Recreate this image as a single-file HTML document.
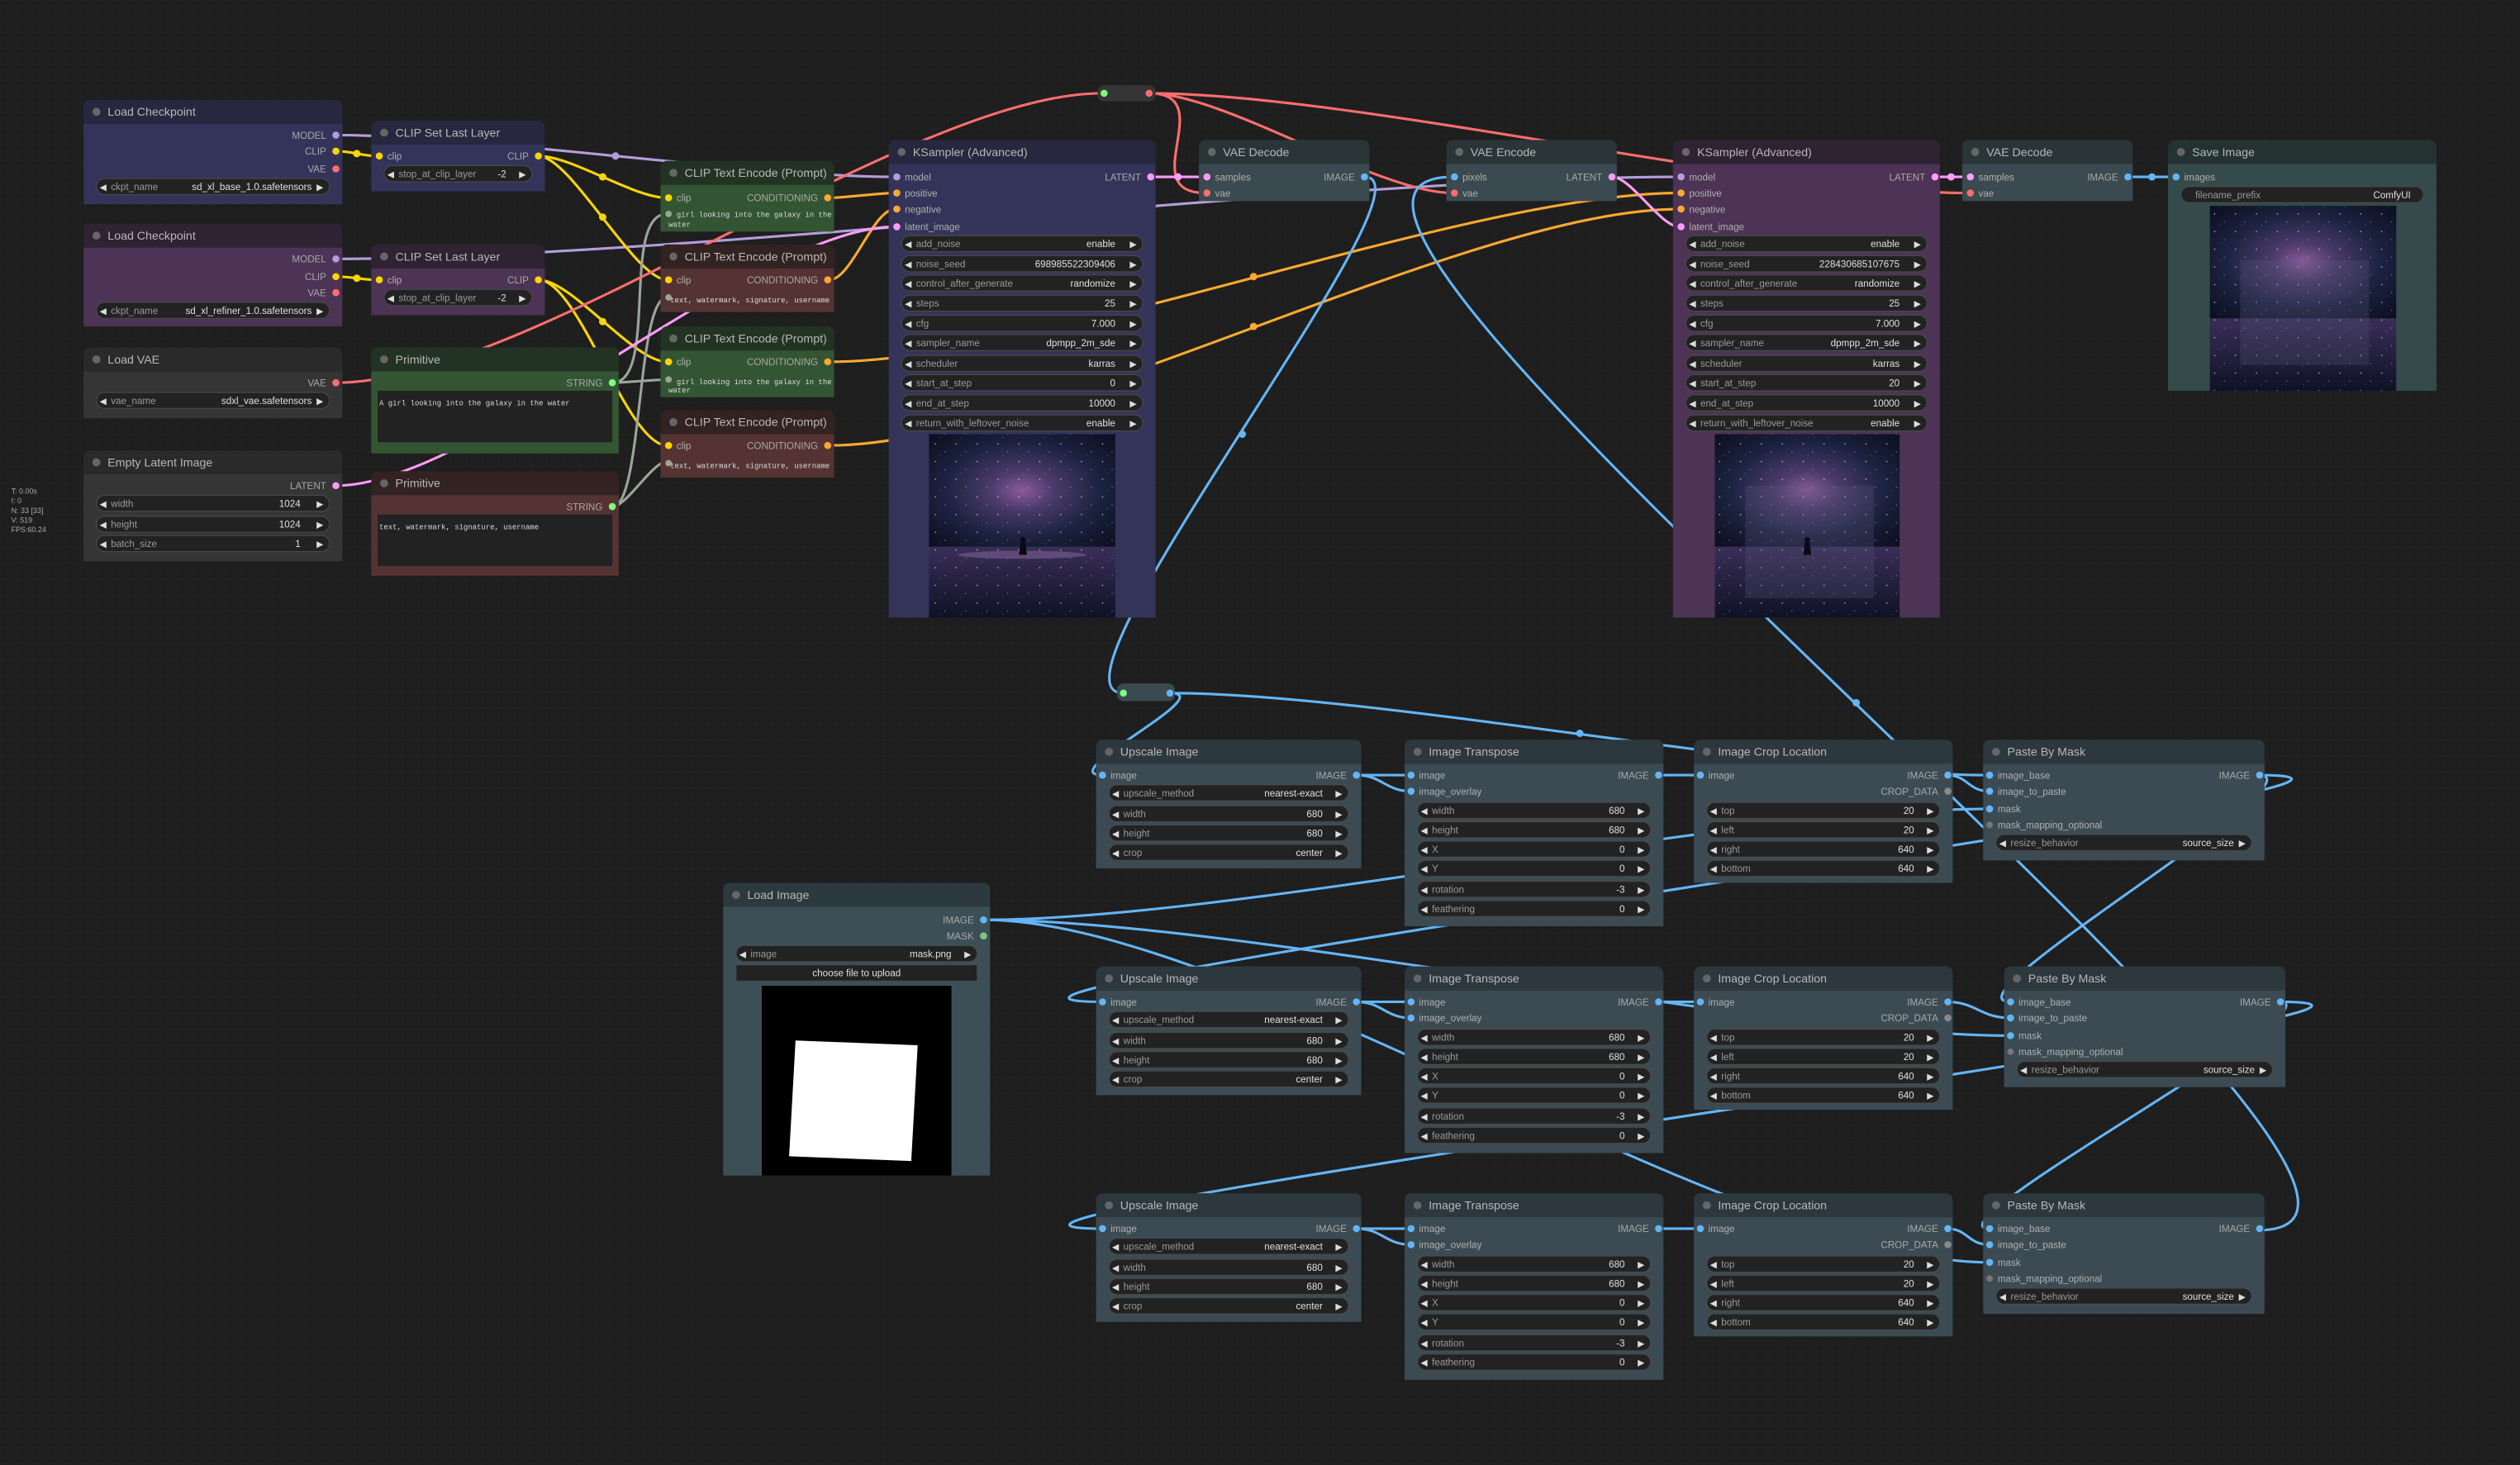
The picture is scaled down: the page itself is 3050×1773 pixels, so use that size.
<!DOCTYPE html>
<html><head><meta charset="utf-8"><style>
html,body{margin:0;padding:0;background:#1e1e1e;}
svg{display:block}
.tt{font-family:"Liberation Sans",sans-serif;font-size:7.3px;fill:#b8b8b8}
.sl{font-family:"Liberation Sans",sans-serif;font-size:6px;fill:#b0b0b0}
.so{font-family:"Liberation Sans",sans-serif;font-size:6px;fill:#a8a8a8;text-anchor:end}
.wl{font-family:"Liberation Sans",sans-serif;font-size:6px;fill:#9a9a9a}
.wv{font-family:"Liberation Sans",sans-serif;font-size:6px;fill:#e0e0e0;text-anchor:end}
.ar{font-family:"DejaVu Sans",sans-serif;font-size:5.5px;fill:#ddd}
.wb{fill:#222;stroke:#4a4a4a;stroke-width:0.6}
.mono{font-family:"Liberation Mono",monospace;font-size:4.6px;fill:#ddd}
.dbg{font-family:"Liberation Sans",sans-serif;font-size:4.6px;fill:#aaa}
.lk{fill:none;stroke-width:1.6}
.dot{fill:#666}
</style></head><body>
<svg width="3050" height="1773" viewBox="0 0 1568 911" preserveAspectRatio="none" xmlns="http://www.w3.org/2000/svg">
<defs>
<pattern id="grid" width="10" height="10" patternUnits="userSpaceOnUse"><path d="M10 0H0V10" fill="none" stroke="#272727" stroke-width="0.5"/></pattern>
<radialGradient id="gal" cx="0.5" cy="0.5" r="0.7"><stop offset="0" stop-color="#8a5a9a"/><stop offset="0.25" stop-color="#4a3a6a"/><stop offset="0.6" stop-color="#1c2240"/><stop offset="1" stop-color="#0a0e1e"/></radialGradient>
<linearGradient id="wat" x1="0" y1="0" x2="0" y2="1"><stop offset="0" stop-color="#3a2e58"/><stop offset="1" stop-color="#0e1226"/></linearGradient>
<pattern id="stars" width="13" height="11" patternUnits="userSpaceOnUse"><circle cx="3" cy="2" r="0.4" fill="#fff" opacity="0.7"/><circle cx="9" cy="7" r="0.3" fill="#fff" opacity="0.6"/><circle cx="6" cy="9" r="0.25" fill="#cce" opacity="0.5"/></pattern>
</defs>
<rect width="1568" height="911" fill="#1e1e1e"/>
<rect width="1568" height="911" fill="url(#grid)"/>
<g class="dbg"><text x="7" y="307">T: 0.00s</text><text x="7" y="313">I: 0</text><text x="7" y="319">N: 33 [33]</text><text x="7" y="325">V: 519</text><text x="7" y="331">FPS:60.24</text></g>

<g class="lk">
<path stroke="#b39ddb" d="M209,84 C296,84 470,110 557,110"/>
<path stroke="#b39ddb" d="M209,161 C419,161 835,110 1045,110"/>
<path stroke="#ffd500" d="M209,94 C220,94 224,97 235,97"/>
<path stroke="#ffd500" d="M335,97 C356,97 394,123 415,123"/>
<path stroke="#ffd500" d="M335,97 C355,97 395,174 415,174"/>
<path stroke="#ffd500" d="M209,172 C220,172 224,174 235,174"/>
<path stroke="#ffd500" d="M335,174 C356,174 394,225 415,225"/>
<path stroke="#ffd500" d="M335,174 C360,174 390,277 415,277"/>
<path stroke="#9aa59a" d="M381,238 C410,238 386,133 415,133"/>
<path stroke="#9aa59a" d="M381,238 C386,238 410,236 415,236"/>
<path stroke="#9aa59a" d="M381,315 C400,315 396,185 415,185"/>
<path stroke="#9aa59a" d="M381,315 C390,315 406,287 415,287"/>
<path stroke="#ffa931" d="M516,123 C526,123 547,120 557,120"/>
<path stroke="#ffa931" d="M516,174 C530,174 543,130 557,130"/>
<path stroke="#ffa931" d="M516,225 C648,225 913,120 1045,120"/>
<path stroke="#ffa931" d="M516,277 C648,277 913,130 1045,130"/>
<path stroke="#ff9cf9" d="M209,302 C296,302 470,141 557,141"/>
<path stroke="#ff9cf9" d="M716,110 L750,110"/>
<path stroke="#ff9cf9" d="M1003,110 C1015,110 1033,141 1045,141"/>
<path stroke="#ff9cf9" d="M1204,110 L1225,110"/>
<path stroke="#ff6e6e" d="M209,238 C330,238 565,58 686,58"/>
<path stroke="#ff6e6e" d="M715,58 C760,58 705,120 750,120"/>
<path stroke="#ff6e6e" d="M715,58 C762,58 857,120 904,120"/>
<path stroke="#ff6e6e" d="M715,58 C843,58 1097,120 1225,120"/>
<path stroke="#64b5f6" d="M849,110 C900,110 640,431 699,431"/>
<path stroke="#64b5f6" d="M1325,110 L1353,110"/>
<path stroke="#64b5f6" d="M1405,765 C1585,765 724,110 904,110"/>
<path stroke="#64b5f6" d="M728,431 C856,431 1110,482 1238,482"/>
<path stroke="#64b5f6" d="M728,431 C760,431 654,482 686,482"/>
<path stroke="#64b5f6" d="M844,482 L878,482"/><path stroke="#64b5f6" d="M844,482 C860,482 862,492 878,492"/>
<path stroke="#64b5f6" d="M1031,482 L1058,482"/>
<path stroke="#64b5f6" d="M1211,482 C1225,482 1224,492 1238,492"/>
<path stroke="#64b5f6" d="M844,623 L878,623"/><path stroke="#64b5f6" d="M844,623 C860,623 862,633 878,633"/>
<path stroke="#64b5f6" d="M1031,623 L1058,623"/>
<path stroke="#64b5f6" d="M1211,623 C1230,623 1232,633 1251,633"/>
<path stroke="#64b5f6" d="M844,764 L878,764"/><path stroke="#64b5f6" d="M844,764 C860,764 862,774 878,774"/>
<path stroke="#64b5f6" d="M1031,764 L1058,764"/>
<path stroke="#64b5f6" d="M1211,764 C1225,764 1224,774 1238,774"/>
<path stroke="#64b5f6" d="M612,572 C770,572 1080,503 1238,503"/>
<path stroke="#64b5f6" d="M612,572 C770,572 1095,644 1251,644"/>
<path stroke="#64b5f6" d="M612,572 C770,572 1080,785 1238,785"/>
<path stroke="#64b5f6" d="M1405,482 C1588,482 503,623 686,623"/>
<path stroke="#64b5f6" d="M1418,623 C1600,623 504,764 686,764"/>
<path stroke="#64b5f6" d="M1405,482 C1450,482 1206,623 1251,623"/>
<path stroke="#64b5f6" d="M1418,623 C1460,623 1196,764 1238,764"/>
</g>
<g>
<circle cx="383" cy="97" r="2.3" fill="#b39ddb"/><circle cx="222" cy="95.5" r="2.3" fill="#ffd500"/><circle cx="222" cy="173" r="2.3" fill="#ffd500"/>
<circle cx="375" cy="110" r="2.3" fill="#ffd500"/><circle cx="375" cy="135" r="2.3" fill="#ffd500"/><circle cx="375" cy="200" r="2.3" fill="#ffd500"/><circle cx="375" cy="225" r="2.3" fill="#ffd500"/>
<circle cx="780" cy="172" r="2.3" fill="#ffa931"/><circle cx="780" cy="203" r="2.3" fill="#ffa931"/>
<circle cx="733" cy="110" r="2.3" fill="#ff9cf9"/><circle cx="1214" cy="110" r="2.3" fill="#ff9cf9"/>
<circle cx="773" cy="270" r="2.3" fill="#64b5f6"/><circle cx="1155" cy="437" r="2.3" fill="#64b5f6"/><circle cx="983" cy="456" r="2.3" fill="#64b5f6"/><circle cx="1339" cy="110" r="2.3" fill="#64b5f6"/>
</g>

<rect x="683" y="53" width="36" height="10" rx="4" fill="#353535"/><circle cx="687" cy="58" r="2.2" fill="#7fff7f"/><circle cx="715" cy="58" r="2.2" fill="#ff6e6e"/>
<rect x="695" y="425" width="36" height="11" rx="4" fill="#3a4a50"/><circle cx="699" cy="431" r="2.2" fill="#7fff7f"/><circle cx="728" cy="431" r="2.2" fill="#64b5f6"/>

<g transform="translate(52,62)">
<rect width="161" height="65" rx="4" fill="#27273f"/><rect y="15" width="161" height="50" fill="#34345a"/>
<circle cx="8" cy="7.5" r="2.5" class="dot"/><text x="15" y="10" class="tt">Load Checkpoint</text>
<text x="151" y="24.2" class="so">MODEL</text><circle cx="157" cy="22" r="2.2" fill="#b39ddb"/>
<text x="151" y="34.2" class="so">CLIP</text><circle cx="157" cy="32" r="2.2" fill="#ffd500"/>
<text x="151" y="45.2" class="so">VAE</text><circle cx="157" cy="43" r="2.2" fill="#ff6e6e"/>
<rect x="8" y="49" width="145" height="10" rx="5" class="wb"/><text x="10" y="56.2" class="ar">◀</text><text x="17" y="56.2" class="wl">ckpt_name</text><text x="142" y="56.2" class="wv">sd_xl_base_1.0.safetensors</text><text x="145" y="56.2" class="ar">▶</text>
</g>
<g transform="translate(52,139)">
<rect width="161" height="64" rx="4" fill="#2e2233"/><rect y="15" width="161" height="49" fill="#4d3355"/>
<circle cx="8" cy="7.5" r="2.5" class="dot"/><text x="15" y="10" class="tt">Load Checkpoint</text>
<text x="151" y="24.2" class="so">MODEL</text><circle cx="157" cy="22" r="2.2" fill="#b39ddb"/>
<text x="151" y="35.2" class="so">CLIP</text><circle cx="157" cy="33" r="2.2" fill="#ffd500"/>
<text x="151" y="45.2" class="so">VAE</text><circle cx="157" cy="43" r="2.2" fill="#ff6e6e"/>
<rect x="8" y="49" width="145" height="10" rx="5" class="wb"/><text x="10" y="56.2" class="ar">◀</text><text x="17" y="56.2" class="wl">ckpt_name</text><text x="142" y="56.2" class="wv">sd_xl_refiner_1.0.safetensors</text><text x="145" y="56.2" class="ar">▶</text>
</g>
<g transform="translate(52,216)">
<rect width="161" height="44" rx="4" fill="#2a2a2a"/><rect y="15" width="161" height="29" fill="#353535"/>
<circle cx="8" cy="7.5" r="2.5" class="dot"/><text x="15" y="10" class="tt">Load VAE</text>
<text x="151" y="24.2" class="so">VAE</text><circle cx="157" cy="22" r="2.2" fill="#ff6e6e"/>
<rect x="8" y="28" width="145" height="10" rx="5" class="wb"/><text x="10" y="35.2" class="ar">◀</text><text x="17" y="35.2" class="wl">vae_name</text><text x="142" y="35.2" class="wv">sdxl_vae.safetensors</text><text x="145" y="35.2" class="ar">▶</text>
</g>
<g transform="translate(52,280)">
<rect width="161" height="69" rx="4" fill="#2a2a2a"/><rect y="15" width="161" height="54" fill="#353535"/>
<circle cx="8" cy="7.5" r="2.5" class="dot"/><text x="15" y="10" class="tt">Empty Latent Image</text>
<text x="151" y="24.2" class="so">LATENT</text><circle cx="157" cy="22" r="2.2" fill="#ff9cf9"/>
<rect x="8" y="28" width="145" height="10" rx="5" class="wb"/><text x="10" y="35.2" class="ar">◀</text><text x="17" y="35.2" class="wl">width</text><text x="135" y="35.2" class="wv">1024</text><text x="145" y="35.2" class="ar">▶</text>
<rect x="8" y="41" width="145" height="10" rx="5" class="wb"/><text x="10" y="48.2" class="ar">◀</text><text x="17" y="48.2" class="wl">height</text><text x="135" y="48.2" class="wv">1024</text><text x="145" y="48.2" class="ar">▶</text>
<rect x="8" y="53" width="145" height="10" rx="5" class="wb"/><text x="10" y="60.2" class="ar">◀</text><text x="17" y="60.2" class="wl">batch_size</text><text x="135" y="60.2" class="wv">1</text><text x="145" y="60.2" class="ar">▶</text>
</g>
<g transform="translate(231,75)">
<rect width="108" height="44" rx="4" fill="#27273f"/><rect y="15" width="108" height="29" fill="#34345a"/>
<circle cx="8" cy="7.5" r="2.5" class="dot"/><text x="15" y="10" class="tt">CLIP Set Last Layer</text>
<circle cx="5" cy="22" r="2.2" fill="#ffd500"/><text x="10" y="24.2" class="sl">clip</text>
<text x="98" y="24.2" class="so">CLIP</text><circle cx="104" cy="22" r="2.2" fill="#ffd500"/>
<rect x="8" y="28" width="92" height="10" rx="5" class="wb"/><text x="10" y="35.2" class="ar">◀</text><text x="17" y="35.2" class="wl">stop_at_clip_layer</text><text x="84" y="35.2" class="wv">-2</text><text x="92" y="35.2" class="ar">▶</text>
</g>
<g transform="translate(231,152)">
<rect width="108" height="44" rx="4" fill="#2e2233"/><rect y="15" width="108" height="29" fill="#4d3355"/>
<circle cx="8" cy="7.5" r="2.5" class="dot"/><text x="15" y="10" class="tt">CLIP Set Last Layer</text>
<circle cx="5" cy="22" r="2.2" fill="#ffd500"/><text x="10" y="24.2" class="sl">clip</text>
<text x="98" y="24.2" class="so">CLIP</text><circle cx="104" cy="22" r="2.2" fill="#ffd500"/>
<rect x="8" y="28" width="92" height="10" rx="5" class="wb"/><text x="10" y="35.2" class="ar">◀</text><text x="17" y="35.2" class="wl">stop_at_clip_layer</text><text x="84" y="35.2" class="wv">-2</text><text x="92" y="35.2" class="ar">▶</text>
</g>
<g transform="translate(231,216)">
<rect width="154" height="66" rx="4" fill="#233323"/><rect y="15" width="154" height="51" fill="#335533"/>
<circle cx="8" cy="7.5" r="2.5" class="dot"/><text x="15" y="10" class="tt">Primitive</text>
<text x="144" y="24.2" class="so">STRING</text><circle cx="150" cy="22" r="2.2" fill="#7fff7f"/>
<rect x="4" y="27" width="146" height="32" fill="#222"/><text x="5" y="36" class="mono">A girl looking into the galaxy in the water</text>
</g>
<g transform="translate(231,293)">
<rect width="154" height="65" rx="4" fill="#332222"/><rect y="15" width="154" height="50" fill="#553333"/>
<circle cx="8" cy="7.5" r="2.5" class="dot"/><text x="15" y="10" class="tt">Primitive</text>
<text x="144" y="24.2" class="so">STRING</text><circle cx="150" cy="22" r="2.2" fill="#7fff7f"/>
<rect x="4" y="27" width="146" height="32" fill="#222"/><text x="5" y="36" class="mono">text, watermark, signature, username</text>
</g>
<g transform="translate(411,100)">
<rect width="108" height="44" rx="4" fill="#233323"/><rect y="15" width="108" height="29" fill="#335533"/>
<circle cx="8" cy="7.5" r="2.5" class="dot"/><text x="15" y="10" class="tt">CLIP Text Encode (Prompt)</text>
<circle cx="5" cy="23" r="2.2" fill="#ffd500"/><text x="10" y="25.2" class="sl">clip</text>
<text x="98" y="25.2" class="so">CONDITIONING</text><circle cx="104" cy="23" r="2.2" fill="#ffa931"/>
<circle cx="5" cy="33" r="2" fill="#9aa59a"/><text x="10" y="35" class="mono">girl looking into the galaxy in the</text><text x="5" y="41" class="mono">water</text>
</g>
<g transform="translate(411,152)">
<rect width="108" height="42" rx="4" fill="#332222"/><rect y="15" width="108" height="27" fill="#553333"/>
<circle cx="8" cy="7.5" r="2.5" class="dot"/><text x="15" y="10" class="tt">CLIP Text Encode (Prompt)</text>
<circle cx="5" cy="22" r="2.2" fill="#ffd500"/><text x="10" y="24.2" class="sl">clip</text>
<text x="98" y="24.2" class="so">CONDITIONING</text><circle cx="104" cy="22" r="2.2" fill="#ffa931"/>
<circle cx="5" cy="33" r="2" fill="#9aa59a"/><text x="6" y="36" class="mono">text, watermark, signature, username</text>
</g>
<g transform="translate(411,203)">
<rect width="108" height="44" rx="4" fill="#233323"/><rect y="15" width="108" height="29" fill="#335533"/>
<circle cx="8" cy="7.5" r="2.5" class="dot"/><text x="15" y="10" class="tt">CLIP Text Encode (Prompt)</text>
<circle cx="5" cy="22" r="2.2" fill="#ffd500"/><text x="10" y="24.2" class="sl">clip</text>
<text x="98" y="24.2" class="so">CONDITIONING</text><circle cx="104" cy="22" r="2.2" fill="#ffa931"/>
<circle cx="5" cy="33" r="2" fill="#9aa59a"/><text x="10" y="36" class="mono">girl looking into the galaxy in the</text><text x="5" y="41" class="mono">water</text>
</g>
<g transform="translate(411,255)">
<rect width="108" height="42" rx="4" fill="#332222"/><rect y="15" width="108" height="27" fill="#553333"/>
<circle cx="8" cy="7.5" r="2.5" class="dot"/><text x="15" y="10" class="tt">CLIP Text Encode (Prompt)</text>
<circle cx="5" cy="22" r="2.2" fill="#ffd500"/><text x="10" y="24.2" class="sl">clip</text>
<text x="98" y="24.2" class="so">CONDITIONING</text><circle cx="104" cy="22" r="2.2" fill="#ffa931"/>
<circle cx="5" cy="33" r="2" fill="#9aa59a"/><text x="6" y="36" class="mono">text, watermark, signature, username</text>
</g>

<g transform="translate(553,87)">
<rect width="166" height="297" rx="4" fill="#27273f"/><rect y="15" width="166" height="282" fill="#34345a"/>
<circle cx="8" cy="7.5" r="2.5" class="dot"/><text x="15" y="10" class="tt">KSampler (Advanced)</text>
<circle cx="5" cy="23" r="2.2" fill="#b39ddb"/><text x="10" y="25.2" class="sl">model</text>
<circle cx="5" cy="33" r="2.2" fill="#ffa931"/><text x="10" y="35.2" class="sl">positive</text>
<circle cx="5" cy="43" r="2.2" fill="#ffa931"/><text x="10" y="45.2" class="sl">negative</text>
<circle cx="5" cy="54" r="2.2" fill="#ff9cf9"/><text x="10" y="56.2" class="sl">latent_image</text>
<text x="157" y="25.2" class="so">LATENT</text><circle cx="163" cy="23" r="2.2" fill="#ff9cf9"/>
<g>
<rect x="8" y="59.5" width="150" height="10" rx="5" class="wb"/><text x="10" y="66.7" class="ar">◀</text><text x="17" y="66.7" class="wl">add_noise</text><text x="141" y="66.7" class="wv">enable</text><text x="150" y="66.7" class="ar">▶</text>
<rect x="8" y="72" width="150" height="10" rx="5" class="wb"/><text x="10" y="79.2" class="ar">◀</text><text x="17" y="79.2" class="wl">noise_seed</text><text x="141" y="79.2" class="wv">698985522309406</text><text x="150" y="79.2" class="ar">▶</text>
<rect x="8" y="84" width="150" height="10" rx="5" class="wb"/><text x="10" y="91.2" class="ar">◀</text><text x="17" y="91.2" class="wl">control_after_generate</text><text x="141" y="91.2" class="wv">randomize</text><text x="150" y="91.2" class="ar">▶</text>
<rect x="8" y="96.5" width="150" height="10" rx="5" class="wb"/><text x="10" y="103.7" class="ar">◀</text><text x="17" y="103.7" class="wl">steps</text><text x="141" y="103.7" class="wv">25</text><text x="150" y="103.7" class="ar">▶</text>
<rect x="8" y="109" width="150" height="10" rx="5" class="wb"/><text x="10" y="116.2" class="ar">◀</text><text x="17" y="116.2" class="wl">cfg</text><text x="141" y="116.2" class="wv">7.000</text><text x="150" y="116.2" class="ar">▶</text>
<rect x="8" y="121" width="150" height="10" rx="5" class="wb"/><text x="10" y="128.2" class="ar">◀</text><text x="17" y="128.2" class="wl">sampler_name</text><text x="141" y="128.2" class="wv">dpmpp_2m_sde</text><text x="150" y="128.2" class="ar">▶</text>
<rect x="8" y="134" width="150" height="10" rx="5" class="wb"/><text x="10" y="141.2" class="ar">◀</text><text x="17" y="141.2" class="wl">scheduler</text><text x="141" y="141.2" class="wv">karras</text><text x="150" y="141.2" class="ar">▶</text>
<rect x="8" y="146" width="150" height="10" rx="5" class="wb"/><text x="10" y="153.2" class="ar">◀</text><text x="17" y="153.2" class="wl">start_at_step</text><text x="141" y="153.2" class="wv">0</text><text x="150" y="153.2" class="ar">▶</text>
<rect x="8" y="158.5" width="150" height="10" rx="5" class="wb"/><text x="10" y="165.7" class="ar">◀</text><text x="17" y="165.7" class="wl">end_at_step</text><text x="141" y="165.7" class="wv">10000</text><text x="150" y="165.7" class="ar">▶</text>
<rect x="8" y="171" width="150" height="10" rx="5" class="wb"/><text x="10" y="178.2" class="ar">◀</text><text x="17" y="178.2" class="wl">return_with_leftover_noise</text><text x="141" y="178.2" class="wv">enable</text><text x="150" y="178.2" class="ar">▶</text>
</g>
<rect x="25" y="183" width="116" height="70" fill="url(#gal)"/><rect x="25" y="253" width="116" height="44" fill="url(#wat)"/>
<rect x="25" y="183" width="116" height="114" fill="url(#stars)"/>
<ellipse cx="83" cy="258" rx="40" ry="2.5" fill="#8a6aa0" opacity="0.5"/>
<path d="M82,250 h3 l1,8 h-5z" fill="#0a0a12"/><circle cx="83.5" cy="248.5" r="1.6" fill="#0a0a12"/>
</g>
<g transform="translate(746,87)">
<rect width="106" height="38" rx="4" fill="#2a3538"/><rect y="15" width="106" height="23" fill="#3a4a50"/>
<circle cx="8" cy="7.5" r="2.5" class="dot"/><text x="15" y="10" class="tt">VAE Decode</text>
<circle cx="5" cy="23" r="2.2" fill="#ff9cf9"/><text x="10" y="25.2" class="sl">samples</text>
<circle cx="5" cy="33" r="2.2" fill="#ff6e6e"/><text x="10" y="35.2" class="sl">vae</text>
<text x="97" y="25.2" class="so">IMAGE</text><circle cx="103" cy="23" r="2.2" fill="#64b5f6"/>
</g>
<g transform="translate(900,87)">
<rect width="106" height="38" rx="4" fill="#2a3538"/><rect y="15" width="106" height="23" fill="#3a4a50"/>
<circle cx="8" cy="7.5" r="2.5" class="dot"/><text x="15" y="10" class="tt">VAE Encode</text>
<circle cx="5" cy="23" r="2.2" fill="#64b5f6"/><text x="10" y="25.2" class="sl">pixels</text>
<circle cx="5" cy="33" r="2.2" fill="#ff6e6e"/><text x="10" y="35.2" class="sl">vae</text>
<text x="97" y="25.2" class="so">LATENT</text><circle cx="103" cy="23" r="2.2" fill="#ff9cf9"/>
</g>
<g transform="translate(1041,87)">
<rect width="166" height="297" rx="4" fill="#2e2233"/><rect y="15" width="166" height="282" fill="#4d3355"/>
<circle cx="8" cy="7.5" r="2.5" class="dot"/><text x="15" y="10" class="tt">KSampler (Advanced)</text>
<circle cx="5" cy="23" r="2.2" fill="#b39ddb"/><text x="10" y="25.2" class="sl">model</text>
<circle cx="5" cy="33" r="2.2" fill="#ffa931"/><text x="10" y="35.2" class="sl">positive</text>
<circle cx="5" cy="43" r="2.2" fill="#ffa931"/><text x="10" y="45.2" class="sl">negative</text>
<circle cx="5" cy="54" r="2.2" fill="#ff9cf9"/><text x="10" y="56.2" class="sl">latent_image</text>
<text x="157" y="25.2" class="so">LATENT</text><circle cx="163" cy="23" r="2.2" fill="#ff9cf9"/>
<g>
<rect x="8" y="59.5" width="150" height="10" rx="5" class="wb"/><text x="10" y="66.7" class="ar">◀</text><text x="17" y="66.7" class="wl">add_noise</text><text x="141" y="66.7" class="wv">enable</text><text x="150" y="66.7" class="ar">▶</text>
<rect x="8" y="72" width="150" height="10" rx="5" class="wb"/><text x="10" y="79.2" class="ar">◀</text><text x="17" y="79.2" class="wl">noise_seed</text><text x="141" y="79.2" class="wv">228430685107675</text><text x="150" y="79.2" class="ar">▶</text>
<rect x="8" y="84" width="150" height="10" rx="5" class="wb"/><text x="10" y="91.2" class="ar">◀</text><text x="17" y="91.2" class="wl">control_after_generate</text><text x="141" y="91.2" class="wv">randomize</text><text x="150" y="91.2" class="ar">▶</text>
<rect x="8" y="96.5" width="150" height="10" rx="5" class="wb"/><text x="10" y="103.7" class="ar">◀</text><text x="17" y="103.7" class="wl">steps</text><text x="141" y="103.7" class="wv">25</text><text x="150" y="103.7" class="ar">▶</text>
<rect x="8" y="109" width="150" height="10" rx="5" class="wb"/><text x="10" y="116.2" class="ar">◀</text><text x="17" y="116.2" class="wl">cfg</text><text x="141" y="116.2" class="wv">7.000</text><text x="150" y="116.2" class="ar">▶</text>
<rect x="8" y="121" width="150" height="10" rx="5" class="wb"/><text x="10" y="128.2" class="ar">◀</text><text x="17" y="128.2" class="wl">sampler_name</text><text x="141" y="128.2" class="wv">dpmpp_2m_sde</text><text x="150" y="128.2" class="ar">▶</text>
<rect x="8" y="134" width="150" height="10" rx="5" class="wb"/><text x="10" y="141.2" class="ar">◀</text><text x="17" y="141.2" class="wl">scheduler</text><text x="141" y="141.2" class="wv">karras</text><text x="150" y="141.2" class="ar">▶</text>
<rect x="8" y="146" width="150" height="10" rx="5" class="wb"/><text x="10" y="153.2" class="ar">◀</text><text x="17" y="153.2" class="wl">start_at_step</text><text x="141" y="153.2" class="wv">20</text><text x="150" y="153.2" class="ar">▶</text>
<rect x="8" y="158.5" width="150" height="10" rx="5" class="wb"/><text x="10" y="165.7" class="ar">◀</text><text x="17" y="165.7" class="wl">end_at_step</text><text x="141" y="165.7" class="wv">10000</text><text x="150" y="165.7" class="ar">▶</text>
<rect x="8" y="171" width="150" height="10" rx="5" class="wb"/><text x="10" y="178.2" class="ar">◀</text><text x="17" y="178.2" class="wl">return_with_leftover_noise</text><text x="141" y="178.2" class="wv">enable</text><text x="150" y="178.2" class="ar">▶</text>
</g>
<rect x="26" y="183" width="115" height="70" fill="url(#gal)"/><rect x="26" y="253" width="115" height="44" fill="url(#wat)"/>
<rect x="26" y="183" width="115" height="114" fill="url(#stars)"/>
<rect x="45" y="215" width="80" height="70" fill="#5a5a7a" opacity="0.25"/>
<path d="M82,250 h3 l1,8 h-5z" fill="#0a0a12"/><circle cx="83.5" cy="248.5" r="1.6" fill="#0a0a12"/>
</g>
<g transform="translate(1221,87)">
<rect width="106" height="38" rx="4" fill="#2a3538"/><rect y="15" width="106" height="23" fill="#3a4a50"/>
<circle cx="8" cy="7.5" r="2.5" class="dot"/><text x="15" y="10" class="tt">VAE Decode</text>
<circle cx="5" cy="23" r="2.2" fill="#ff9cf9"/><text x="10" y="25.2" class="sl">samples</text>
<circle cx="5" cy="33" r="2.2" fill="#ff6e6e"/><text x="10" y="35.2" class="sl">vae</text>
<text x="97" y="25.2" class="so">IMAGE</text><circle cx="103" cy="23" r="2.2" fill="#64b5f6"/>
</g>
<g transform="translate(1349,87)">
<rect width="167" height="156" rx="4" fill="#243232"/><rect y="15" width="167" height="141" fill="#354a4a"/>
<circle cx="8" cy="7.5" r="2.5" class="dot"/><text x="15" y="10" class="tt">Save Image</text>
<circle cx="5" cy="23" r="2.2" fill="#64b5f6"/><text x="10" y="25.2" class="sl">images</text>
<rect x="8" y="29" width="151" height="10" rx="5" class="wb"/><text x="17" y="36.2" class="wl">filename_prefix</text><text x="151" y="36.2" class="wv">ComfyUI</text>
<rect x="26" y="41" width="116" height="70" fill="url(#gal)"/><rect x="26" y="111" width="116" height="45" fill="url(#wat)"/>
<rect x="26" y="41" width="116" height="115" fill="url(#stars)"/>
<rect x="45" y="75" width="80" height="65" fill="#5a5a7a" opacity="0.25"/>
</g>

<g transform="translate(450,549)">
<rect width="166" height="182" rx="4" fill="#2c3a40"/><rect y="15" width="166" height="167" fill="#3d4f56"/>
<circle cx="8" cy="7.5" r="2.5" class="dot"/><text x="15" y="10" class="tt">Load Image</text>
<text x="156" y="25.2" class="so">IMAGE</text><circle cx="162" cy="23" r="2.2" fill="#64b5f6"/>
<text x="156" y="35.2" class="so">MASK</text><circle cx="162" cy="33" r="2.2" fill="#81c784"/>
<rect x="8" y="39" width="150" height="10" rx="5" class="wb"/><text x="10" y="46.2" class="ar">◀</text><text x="17" y="46.2" class="wl">image</text><text x="142" y="46.2" class="wv">mask.png</text><text x="150" y="46.2" class="ar">▶</text>
<rect x="8" y="51" width="150" height="10" fill="#222" stroke="#4a4a4a" stroke-width="0.5"/><text x="83" y="58.2" class="wv" style="text-anchor:middle">choose file to upload</text>
<rect x="24" y="64" width="118" height="118" fill="#000"/>
</g>
<polygon points="495,647 571,650 567,722 491,719" fill="#fff"/>

<g transform="translate(682,460)">
<rect width="165" height="80" rx="4" fill="#2c383e"/><rect y="15" width="165" height="65" fill="#3c4b53"/>
<circle cx="8" cy="7.5" r="2.5" class="dot"/><text x="15" y="10" class="tt">Upscale Image</text>
<circle cx="4" cy="22" r="2.2" fill="#64b5f6"/><text x="9" y="24.2" class="sl">image</text>
<text x="156" y="24.2" class="so">IMAGE</text><circle cx="162" cy="22" r="2.2" fill="#64b5f6"/>
<rect x="8" y="28" width="149" height="10" rx="5" class="wb"/><text x="10" y="35.2" class="ar">◀</text><text x="17" y="35.2" class="wl">upscale_method</text><text x="141" y="35.2" class="wv">nearest-exact</text><text x="149" y="35.2" class="ar">▶</text>
<rect x="8" y="41" width="149" height="10" rx="5" class="wb"/><text x="10" y="48.2" class="ar">◀</text><text x="17" y="48.2" class="wl">width</text><text x="141" y="48.2" class="wv">680</text><text x="149" y="48.2" class="ar">▶</text>
<rect x="8" y="53" width="149" height="10" rx="5" class="wb"/><text x="10" y="60.2" class="ar">◀</text><text x="17" y="60.2" class="wl">height</text><text x="141" y="60.2" class="wv">680</text><text x="149" y="60.2" class="ar">▶</text>
<rect x="8" y="65" width="149" height="10" rx="5" class="wb"/><text x="10" y="72.2" class="ar">◀</text><text x="17" y="72.2" class="wl">crop</text><text x="141" y="72.2" class="wv">center</text><text x="149" y="72.2" class="ar">▶</text>
</g>
<g transform="translate(874,460)">
<rect width="161" height="116" rx="4" fill="#2c383e"/><rect y="15" width="161" height="101" fill="#3c4b53"/>
<circle cx="8" cy="7.5" r="2.5" class="dot"/><text x="15" y="10" class="tt">Image Transpose</text>
<circle cx="4" cy="22" r="2.2" fill="#64b5f6"/><text x="9" y="24.2" class="sl">image</text>
<circle cx="4" cy="32" r="2.2" fill="#64b5f6"/><text x="9" y="34.2" class="sl">image_overlay</text>
<text x="152" y="24.2" class="so">IMAGE</text><circle cx="158" cy="22" r="2.2" fill="#64b5f6"/>
<rect x="8" y="39" width="145" height="10" rx="5" class="wb"/><text x="10" y="46.2" class="ar">◀</text><text x="17" y="46.2" class="wl">width</text><text x="137" y="46.2" class="wv">680</text><text x="145" y="46.2" class="ar">▶</text>
<rect x="8" y="51" width="145" height="10" rx="5" class="wb"/><text x="10" y="58.2" class="ar">◀</text><text x="17" y="58.2" class="wl">height</text><text x="137" y="58.2" class="wv">680</text><text x="145" y="58.2" class="ar">▶</text>
<rect x="8" y="63" width="145" height="10" rx="5" class="wb"/><text x="10" y="70.2" class="ar">◀</text><text x="17" y="70.2" class="wl">X</text><text x="137" y="70.2" class="wv">0</text><text x="145" y="70.2" class="ar">▶</text>
<rect x="8" y="75" width="145" height="10" rx="5" class="wb"/><text x="10" y="82.2" class="ar">◀</text><text x="17" y="82.2" class="wl">Y</text><text x="137" y="82.2" class="wv">0</text><text x="145" y="82.2" class="ar">▶</text>
<rect x="8" y="88" width="145" height="10" rx="5" class="wb"/><text x="10" y="95.2" class="ar">◀</text><text x="17" y="95.2" class="wl">rotation</text><text x="137" y="95.2" class="wv">-3</text><text x="145" y="95.2" class="ar">▶</text>
<rect x="8" y="100" width="145" height="10" rx="5" class="wb"/><text x="10" y="107.2" class="ar">◀</text><text x="17" y="107.2" class="wl">feathering</text><text x="137" y="107.2" class="wv">0</text><text x="145" y="107.2" class="ar">▶</text>
</g>
<g transform="translate(1054,460)">
<rect width="161" height="89" rx="4" fill="#2c383e"/><rect y="15" width="161" height="74" fill="#3c4b53"/>
<circle cx="8" cy="7.5" r="2.5" class="dot"/><text x="15" y="10" class="tt">Image Crop Location</text>
<circle cx="4" cy="22" r="2.2" fill="#64b5f6"/><text x="9" y="24.2" class="sl">image</text>
<text x="152" y="24.2" class="so">IMAGE</text><circle cx="158" cy="22" r="2.2" fill="#64b5f6"/>
<text x="152" y="34.2" class="so">CROP_DATA</text><circle cx="158" cy="32" r="2.2" fill="#888"/>
<rect x="8" y="39" width="145" height="10" rx="5" class="wb"/><text x="10" y="46.2" class="ar">◀</text><text x="17" y="46.2" class="wl">top</text><text x="137" y="46.2" class="wv">20</text><text x="145" y="46.2" class="ar">▶</text>
<rect x="8" y="51" width="145" height="10" rx="5" class="wb"/><text x="10" y="58.2" class="ar">◀</text><text x="17" y="58.2" class="wl">left</text><text x="137" y="58.2" class="wv">20</text><text x="145" y="58.2" class="ar">▶</text>
<rect x="8" y="63" width="145" height="10" rx="5" class="wb"/><text x="10" y="70.2" class="ar">◀</text><text x="17" y="70.2" class="wl">right</text><text x="137" y="70.2" class="wv">640</text><text x="145" y="70.2" class="ar">▶</text>
<rect x="8" y="75" width="145" height="10" rx="5" class="wb"/><text x="10" y="82.2" class="ar">◀</text><text x="17" y="82.2" class="wl">bottom</text><text x="137" y="82.2" class="wv">640</text><text x="145" y="82.2" class="ar">▶</text>
</g>
<g transform="translate(1234,460)">
<rect width="175" height="75" rx="4" fill="#2c383e"/><rect y="15" width="175" height="60" fill="#3c4b53"/>
<circle cx="8" cy="7.5" r="2.5" class="dot"/><text x="15" y="10" class="tt">Paste By Mask</text>
<circle cx="4" cy="22" r="2.2" fill="#64b5f6"/><text x="9" y="24.2" class="sl">image_base</text>
<circle cx="4" cy="32" r="2.2" fill="#64b5f6"/><text x="9" y="34.2" class="sl">image_to_paste</text>
<circle cx="4" cy="43" r="2.2" fill="#64b5f6"/><text x="9" y="45.2" class="sl">mask</text>
<circle cx="4" cy="53" r="2" fill="#777"/><text x="9" y="55.2" class="sl">mask_mapping_optional</text>
<text x="166" y="24.2" class="so">IMAGE</text><circle cx="172" cy="22" r="2.2" fill="#64b5f6"/>
<rect x="8" y="59" width="159" height="10" rx="5" class="wb"/><text x="10" y="66.2" class="ar">◀</text><text x="17" y="66.2" class="wl">resize_behavior</text><text x="156" y="66.2" class="wv">source_size</text><text x="159" y="66.2" class="ar">▶</text>
</g>

<g transform="translate(682,601)">
<rect width="165" height="80" rx="4" fill="#2c383e"/><rect y="15" width="165" height="65" fill="#3c4b53"/>
<circle cx="8" cy="7.5" r="2.5" class="dot"/><text x="15" y="10" class="tt">Upscale Image</text>
<circle cx="4" cy="22" r="2.2" fill="#64b5f6"/><text x="9" y="24.2" class="sl">image</text>
<text x="156" y="24.2" class="so">IMAGE</text><circle cx="162" cy="22" r="2.2" fill="#64b5f6"/>
<rect x="8" y="28" width="149" height="10" rx="5" class="wb"/><text x="10" y="35.2" class="ar">◀</text><text x="17" y="35.2" class="wl">upscale_method</text><text x="141" y="35.2" class="wv">nearest-exact</text><text x="149" y="35.2" class="ar">▶</text>
<rect x="8" y="41" width="149" height="10" rx="5" class="wb"/><text x="10" y="48.2" class="ar">◀</text><text x="17" y="48.2" class="wl">width</text><text x="141" y="48.2" class="wv">680</text><text x="149" y="48.2" class="ar">▶</text>
<rect x="8" y="53" width="149" height="10" rx="5" class="wb"/><text x="10" y="60.2" class="ar">◀</text><text x="17" y="60.2" class="wl">height</text><text x="141" y="60.2" class="wv">680</text><text x="149" y="60.2" class="ar">▶</text>
<rect x="8" y="65" width="149" height="10" rx="5" class="wb"/><text x="10" y="72.2" class="ar">◀</text><text x="17" y="72.2" class="wl">crop</text><text x="141" y="72.2" class="wv">center</text><text x="149" y="72.2" class="ar">▶</text>
</g>
<g transform="translate(874,601)">
<rect width="161" height="116" rx="4" fill="#2c383e"/><rect y="15" width="161" height="101" fill="#3c4b53"/>
<circle cx="8" cy="7.5" r="2.5" class="dot"/><text x="15" y="10" class="tt">Image Transpose</text>
<circle cx="4" cy="22" r="2.2" fill="#64b5f6"/><text x="9" y="24.2" class="sl">image</text>
<circle cx="4" cy="32" r="2.2" fill="#64b5f6"/><text x="9" y="34.2" class="sl">image_overlay</text>
<text x="152" y="24.2" class="so">IMAGE</text><circle cx="158" cy="22" r="2.2" fill="#64b5f6"/>
<rect x="8" y="39" width="145" height="10" rx="5" class="wb"/><text x="10" y="46.2" class="ar">◀</text><text x="17" y="46.2" class="wl">width</text><text x="137" y="46.2" class="wv">680</text><text x="145" y="46.2" class="ar">▶</text>
<rect x="8" y="51" width="145" height="10" rx="5" class="wb"/><text x="10" y="58.2" class="ar">◀</text><text x="17" y="58.2" class="wl">height</text><text x="137" y="58.2" class="wv">680</text><text x="145" y="58.2" class="ar">▶</text>
<rect x="8" y="63" width="145" height="10" rx="5" class="wb"/><text x="10" y="70.2" class="ar">◀</text><text x="17" y="70.2" class="wl">X</text><text x="137" y="70.2" class="wv">0</text><text x="145" y="70.2" class="ar">▶</text>
<rect x="8" y="75" width="145" height="10" rx="5" class="wb"/><text x="10" y="82.2" class="ar">◀</text><text x="17" y="82.2" class="wl">Y</text><text x="137" y="82.2" class="wv">0</text><text x="145" y="82.2" class="ar">▶</text>
<rect x="8" y="88" width="145" height="10" rx="5" class="wb"/><text x="10" y="95.2" class="ar">◀</text><text x="17" y="95.2" class="wl">rotation</text><text x="137" y="95.2" class="wv">-3</text><text x="145" y="95.2" class="ar">▶</text>
<rect x="8" y="100" width="145" height="10" rx="5" class="wb"/><text x="10" y="107.2" class="ar">◀</text><text x="17" y="107.2" class="wl">feathering</text><text x="137" y="107.2" class="wv">0</text><text x="145" y="107.2" class="ar">▶</text>
</g>
<g transform="translate(1054,601)">
<rect width="161" height="89" rx="4" fill="#2c383e"/><rect y="15" width="161" height="74" fill="#3c4b53"/>
<circle cx="8" cy="7.5" r="2.5" class="dot"/><text x="15" y="10" class="tt">Image Crop Location</text>
<circle cx="4" cy="22" r="2.2" fill="#64b5f6"/><text x="9" y="24.2" class="sl">image</text>
<text x="152" y="24.2" class="so">IMAGE</text><circle cx="158" cy="22" r="2.2" fill="#64b5f6"/>
<text x="152" y="34.2" class="so">CROP_DATA</text><circle cx="158" cy="32" r="2.2" fill="#888"/>
<rect x="8" y="39" width="145" height="10" rx="5" class="wb"/><text x="10" y="46.2" class="ar">◀</text><text x="17" y="46.2" class="wl">top</text><text x="137" y="46.2" class="wv">20</text><text x="145" y="46.2" class="ar">▶</text>
<rect x="8" y="51" width="145" height="10" rx="5" class="wb"/><text x="10" y="58.2" class="ar">◀</text><text x="17" y="58.2" class="wl">left</text><text x="137" y="58.2" class="wv">20</text><text x="145" y="58.2" class="ar">▶</text>
<rect x="8" y="63" width="145" height="10" rx="5" class="wb"/><text x="10" y="70.2" class="ar">◀</text><text x="17" y="70.2" class="wl">right</text><text x="137" y="70.2" class="wv">640</text><text x="145" y="70.2" class="ar">▶</text>
<rect x="8" y="75" width="145" height="10" rx="5" class="wb"/><text x="10" y="82.2" class="ar">◀</text><text x="17" y="82.2" class="wl">bottom</text><text x="137" y="82.2" class="wv">640</text><text x="145" y="82.2" class="ar">▶</text>
</g>
<g transform="translate(1247,601)">
<rect width="175" height="75" rx="4" fill="#2c383e"/><rect y="15" width="175" height="60" fill="#3c4b53"/>
<circle cx="8" cy="7.5" r="2.5" class="dot"/><text x="15" y="10" class="tt">Paste By Mask</text>
<circle cx="4" cy="22" r="2.2" fill="#64b5f6"/><text x="9" y="24.2" class="sl">image_base</text>
<circle cx="4" cy="32" r="2.2" fill="#64b5f6"/><text x="9" y="34.2" class="sl">image_to_paste</text>
<circle cx="4" cy="43" r="2.2" fill="#64b5f6"/><text x="9" y="45.2" class="sl">mask</text>
<circle cx="4" cy="53" r="2" fill="#777"/><text x="9" y="55.2" class="sl">mask_mapping_optional</text>
<text x="166" y="24.2" class="so">IMAGE</text><circle cx="172" cy="22" r="2.2" fill="#64b5f6"/>
<rect x="8" y="59" width="159" height="10" rx="5" class="wb"/><text x="10" y="66.2" class="ar">◀</text><text x="17" y="66.2" class="wl">resize_behavior</text><text x="156" y="66.2" class="wv">source_size</text><text x="159" y="66.2" class="ar">▶</text>
</g>

<g transform="translate(682,742)">
<rect width="165" height="80" rx="4" fill="#2c383e"/><rect y="15" width="165" height="65" fill="#3c4b53"/>
<circle cx="8" cy="7.5" r="2.5" class="dot"/><text x="15" y="10" class="tt">Upscale Image</text>
<circle cx="4" cy="22" r="2.2" fill="#64b5f6"/><text x="9" y="24.2" class="sl">image</text>
<text x="156" y="24.2" class="so">IMAGE</text><circle cx="162" cy="22" r="2.2" fill="#64b5f6"/>
<rect x="8" y="28" width="149" height="10" rx="5" class="wb"/><text x="10" y="35.2" class="ar">◀</text><text x="17" y="35.2" class="wl">upscale_method</text><text x="141" y="35.2" class="wv">nearest-exact</text><text x="149" y="35.2" class="ar">▶</text>
<rect x="8" y="41" width="149" height="10" rx="5" class="wb"/><text x="10" y="48.2" class="ar">◀</text><text x="17" y="48.2" class="wl">width</text><text x="141" y="48.2" class="wv">680</text><text x="149" y="48.2" class="ar">▶</text>
<rect x="8" y="53" width="149" height="10" rx="5" class="wb"/><text x="10" y="60.2" class="ar">◀</text><text x="17" y="60.2" class="wl">height</text><text x="141" y="60.2" class="wv">680</text><text x="149" y="60.2" class="ar">▶</text>
<rect x="8" y="65" width="149" height="10" rx="5" class="wb"/><text x="10" y="72.2" class="ar">◀</text><text x="17" y="72.2" class="wl">crop</text><text x="141" y="72.2" class="wv">center</text><text x="149" y="72.2" class="ar">▶</text>
</g>
<g transform="translate(874,742)">
<rect width="161" height="116" rx="4" fill="#2c383e"/><rect y="15" width="161" height="101" fill="#3c4b53"/>
<circle cx="8" cy="7.5" r="2.5" class="dot"/><text x="15" y="10" class="tt">Image Transpose</text>
<circle cx="4" cy="22" r="2.2" fill="#64b5f6"/><text x="9" y="24.2" class="sl">image</text>
<circle cx="4" cy="32" r="2.2" fill="#64b5f6"/><text x="9" y="34.2" class="sl">image_overlay</text>
<text x="152" y="24.2" class="so">IMAGE</text><circle cx="158" cy="22" r="2.2" fill="#64b5f6"/>
<rect x="8" y="39" width="145" height="10" rx="5" class="wb"/><text x="10" y="46.2" class="ar">◀</text><text x="17" y="46.2" class="wl">width</text><text x="137" y="46.2" class="wv">680</text><text x="145" y="46.2" class="ar">▶</text>
<rect x="8" y="51" width="145" height="10" rx="5" class="wb"/><text x="10" y="58.2" class="ar">◀</text><text x="17" y="58.2" class="wl">height</text><text x="137" y="58.2" class="wv">680</text><text x="145" y="58.2" class="ar">▶</text>
<rect x="8" y="63" width="145" height="10" rx="5" class="wb"/><text x="10" y="70.2" class="ar">◀</text><text x="17" y="70.2" class="wl">X</text><text x="137" y="70.2" class="wv">0</text><text x="145" y="70.2" class="ar">▶</text>
<rect x="8" y="75" width="145" height="10" rx="5" class="wb"/><text x="10" y="82.2" class="ar">◀</text><text x="17" y="82.2" class="wl">Y</text><text x="137" y="82.2" class="wv">0</text><text x="145" y="82.2" class="ar">▶</text>
<rect x="8" y="88" width="145" height="10" rx="5" class="wb"/><text x="10" y="95.2" class="ar">◀</text><text x="17" y="95.2" class="wl">rotation</text><text x="137" y="95.2" class="wv">-3</text><text x="145" y="95.2" class="ar">▶</text>
<rect x="8" y="100" width="145" height="10" rx="5" class="wb"/><text x="10" y="107.2" class="ar">◀</text><text x="17" y="107.2" class="wl">feathering</text><text x="137" y="107.2" class="wv">0</text><text x="145" y="107.2" class="ar">▶</text>
</g>
<g transform="translate(1054,742)">
<rect width="161" height="89" rx="4" fill="#2c383e"/><rect y="15" width="161" height="74" fill="#3c4b53"/>
<circle cx="8" cy="7.5" r="2.5" class="dot"/><text x="15" y="10" class="tt">Image Crop Location</text>
<circle cx="4" cy="22" r="2.2" fill="#64b5f6"/><text x="9" y="24.2" class="sl">image</text>
<text x="152" y="24.2" class="so">IMAGE</text><circle cx="158" cy="22" r="2.2" fill="#64b5f6"/>
<text x="152" y="34.2" class="so">CROP_DATA</text><circle cx="158" cy="32" r="2.2" fill="#888"/>
<rect x="8" y="39" width="145" height="10" rx="5" class="wb"/><text x="10" y="46.2" class="ar">◀</text><text x="17" y="46.2" class="wl">top</text><text x="137" y="46.2" class="wv">20</text><text x="145" y="46.2" class="ar">▶</text>
<rect x="8" y="51" width="145" height="10" rx="5" class="wb"/><text x="10" y="58.2" class="ar">◀</text><text x="17" y="58.2" class="wl">left</text><text x="137" y="58.2" class="wv">20</text><text x="145" y="58.2" class="ar">▶</text>
<rect x="8" y="63" width="145" height="10" rx="5" class="wb"/><text x="10" y="70.2" class="ar">◀</text><text x="17" y="70.2" class="wl">right</text><text x="137" y="70.2" class="wv">640</text><text x="145" y="70.2" class="ar">▶</text>
<rect x="8" y="75" width="145" height="10" rx="5" class="wb"/><text x="10" y="82.2" class="ar">◀</text><text x="17" y="82.2" class="wl">bottom</text><text x="137" y="82.2" class="wv">640</text><text x="145" y="82.2" class="ar">▶</text>
</g>
<g transform="translate(1234,742)">
<rect width="175" height="75" rx="4" fill="#2c383e"/><rect y="15" width="175" height="60" fill="#3c4b53"/>
<circle cx="8" cy="7.5" r="2.5" class="dot"/><text x="15" y="10" class="tt">Paste By Mask</text>
<circle cx="4" cy="22" r="2.2" fill="#64b5f6"/><text x="9" y="24.2" class="sl">image_base</text>
<circle cx="4" cy="32" r="2.2" fill="#64b5f6"/><text x="9" y="34.2" class="sl">image_to_paste</text>
<circle cx="4" cy="43" r="2.2" fill="#64b5f6"/><text x="9" y="45.2" class="sl">mask</text>
<circle cx="4" cy="53" r="2" fill="#777"/><text x="9" y="55.2" class="sl">mask_mapping_optional</text>
<text x="166" y="24.2" class="so">IMAGE</text><circle cx="172" cy="22" r="2.2" fill="#64b5f6"/>
<rect x="8" y="59" width="159" height="10" rx="5" class="wb"/><text x="10" y="66.2" class="ar">◀</text><text x="17" y="66.2" class="wl">resize_behavior</text><text x="156" y="66.2" class="wv">source_size</text><text x="159" y="66.2" class="ar">▶</text>
</g>
</svg>
</body></html>
